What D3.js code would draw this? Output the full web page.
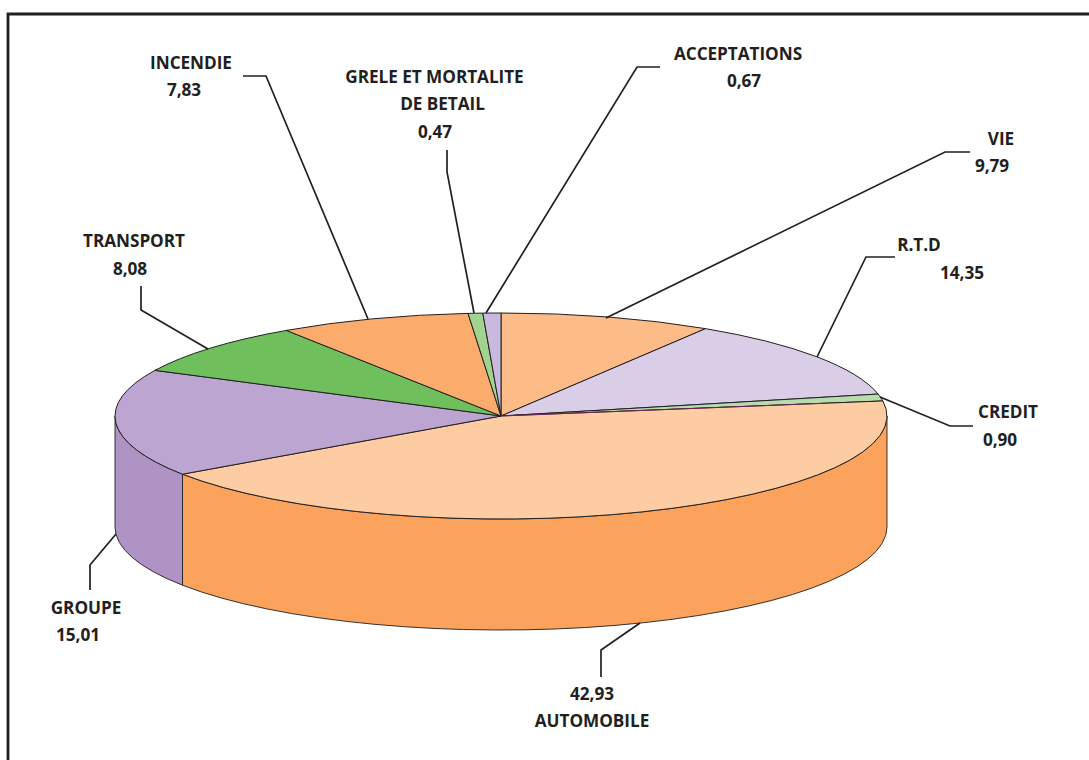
<!DOCTYPE html>
<html><head><meta charset="utf-8">
<script src="https://cdn.jsdelivr.net/npm/d3@7"></script>
<style>
html,body{margin:0;padding:0;background:#fff;overflow:hidden}
svg{display:block}
text{font-family:"Open Sans",sans-serif;font-weight:700;font-size:17.2px;letter-spacing:-0.05px;fill:#231f20;text-anchor:middle}
</style></head><body>
<svg id="c" width="1089" height="760"></svg>
<script>
// Data: clockwise from 12 o'clock
const categories = ["VIE","R.T.D","CREDIT","AUTOMOBILE","GROUPE","TRANSPORT","INCENDIE","GRELE ET MORTALITE DE BETAIL","ACCEPTATIONS"];
const values = [9.79,14.35,0.90,42.93,15.01,8.08,7.83,0.47,0.67];
const valueLabels = ["9,79","14,35","0,90","42,93","15,01","8,08","7,83","0,47","0,67"];

// Styles
const topColors = ["#fdbc87","#dacde8","#b7dcae","#fdcca3","#bda5d1","#6fc05c","#fbab6c","#a0d48f","#c9b9de"];
const sideColors = {AUTOMOBILE:"#fba25c",GROUPE:"#b093c5"};

// Layout
const cx=501, cy=416, rx=386, ry=103, depth=111;
// The drawn disc is a perspective view: screen angle (deg) read at each slice boundary
const viewAngles = [0,32,77.7,81.6,235.6,296.3,326.2,355.1,357.3,360];

const svg=d3.select("#c");
svg.append("path").attr("d","M1089,14H8V760").attr("fill","none").attr("stroke","#231f20").attr("stroke-width",2.8);

const pie=d3.pie().sort(null).startAngle(0).endAngle(2*Math.PI).value(d=>d);
const arcs=pie(values);
const viewOf=d3.scaleLinear()
  .domain(arcs.map(a=>a.startAngle).concat(2*Math.PI))
  .range(viewAngles.map(a=>a*Math.PI/180));
const px=t=>cx+rx*Math.sin(t), py=t=>cy-ry*Math.cos(t);
const ln="#231f20";

// side wall
arcs.forEach((a,i)=>{
  const s=Math.max(viewOf(a.startAngle),Math.PI/2), e=Math.min(viewOf(a.endAngle),3*Math.PI/2);
  if(e<=s) return;
  const big=(e-s)>Math.PI?1:0;
  svg.append("path")
    .attr("d",`M${px(s)},${py(s)}A${rx},${ry} 0 ${big} 1 ${px(e)},${py(e)}L${px(e)},${py(e)+depth}A${rx},${ry} 0 ${big} 0 ${px(s)},${py(s)+depth}Z`)
    .attr("fill",sideColors[categories[i]]).attr("stroke",ln).attr("stroke-width",0.9).attr("stroke-linejoin","round");
});
// top slices
arcs.forEach((a,i)=>{
  const s=viewOf(a.startAngle), e=viewOf(a.endAngle);
  const big=(e-s)>Math.PI?1:0;
  svg.append("path")
    .attr("d",`M${cx},${cy}L${px(s)},${py(s)}A${rx},${ry} 0 ${big} 1 ${px(e)},${py(e)}Z`)
    .attr("fill",topColors[i]).attr("stroke",ln).attr("stroke-width",1).attr("stroke-linejoin","round");
});
// thin magenta edge between CREDIT and AUTOMOBILE
const edge=viewOf(arcs[3].startAngle);
svg.append("line").attr("x1",cx).attr("y1",cy).attr("x2",px(edge)-60).attr("y2",cy+(py(edge)-cy)*(px(edge)-60-cx)/(px(edge)-cx))
  .attr("stroke","#8a2a6a").attr("stroke-width",0.7);

// leader lines, keyed by category index
const leaders=[
 [[970,152],[945,152],[606,318]],
 [[895,257],[866,257],[817,357]],
 [[973,426],[950,426],[880,397]],
 [[640,623],[601,650],[601,677]],
 [[116,534],[90,565],[90,590]],
 [[141,286],[141,310],[208,349]],
 [[243,76],[266,76],[368,319]],
 [[447,150],[447,172],[474,313]],
 [[660,67],[637,67],[486,313]]
];
const line=d3.line();
leaders.forEach(l=>svg.append("path").attr("d",line(l)).attr("fill","none").attr("stroke",ln).attr("stroke-width",1.7));

// label text lines: [text, x, baseline]
const labelLayout=[
 [[categories[0],1001,145],[valueLabels[0],992,172]],
 [[categories[1],919,251],[valueLabels[1],962,279]],
 [[categories[2],1008,418],[valueLabels[2],1000,446]],
 [[valueLabels[3],592,700],[categories[3],592,727]],
 [[categories[4],86,614],[valueLabels[4],78,641]],
 [[categories[5],134,247],[valueLabels[5],130,275]],
 [[categories[6],191,69],[valueLabels[6],184,96]],
 [["GRELE ET MORTALITE",434.5,83],["DE BETAIL",442.5,110],[valueLabels[7],435,138]],
 [[categories[8],738,60],[valueLabels[8],744,87]]
];
labelLayout.flat().forEach(([t,x,y])=>svg.append("text").attr("x",x).attr("y",y).text(t));
</script></body></html>
